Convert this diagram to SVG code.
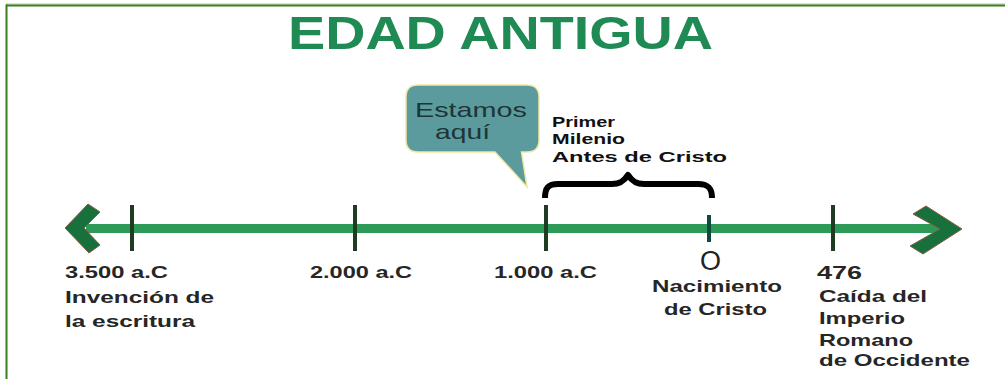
<svg xmlns="http://www.w3.org/2000/svg" width="1005" height="379" viewBox="0 0 1005 379">
<style>
.lbl{font-family:"Liberation Sans",Arial,sans-serif;font-weight:bold;font-size:17px;fill:#262626}
.brace-t{font-family:"Liberation Sans",Arial,sans-serif;font-weight:bold;font-size:15.5px;fill:#111}
.tick{stroke:#1f3b22;stroke-width:4;stroke-linecap:butt}
.head{fill:#18703d;stroke:#8a5a40;stroke-width:1}
</style>
<rect width="1005" height="379" fill="#ffffff"/>
<g id="frame">
<line x1="6" y1="4" x2="1005" y2="4" stroke="#a9cf9a" stroke-width="1"/>
<line x1="6" y1="5.5" x2="1005" y2="5.5" stroke="#3a7f20" stroke-width="2"/>
<line x1="6.5" y1="4.5" x2="6.5" y2="379" stroke="#3a7f20" stroke-width="2"/>
</g>
<g id="title">
<text x="288" y="49" font-family="'Liberation Sans',Arial,sans-serif" font-weight="bold" font-size="45.5" fill="#1f8a53" textLength="425" lengthAdjust="spacingAndGlyphs">EDAD ANTIGUA</text>
</g>
<g id="connectors">
<line x1="86" y1="228.5" x2="940" y2="228.5" stroke="#2e9a57" stroke-width="9"/>
<polygon class="head" points="65,228 88,204 100,212 84,228 100,245 89,253"/>
<polygon class="head" points="926,206 962,229 923,254 910,246 940,229 913,214"/>
<path d="M545,198 C545,188 548,184 558,184 L612,184 C620,184 624,181 628,175 C632,181 636,184 644,184 L698,184 C708,184 712,188 712,198" fill="none" stroke="#000" stroke-width="6" stroke-linejoin="round"/>
</g>
<g id="node-3500">
<line class="tick" x1="132" y1="205" x2="132" y2="251"/>
<text class="lbl" x="65" y="278" textLength="103" lengthAdjust="spacingAndGlyphs">3.500 a.C</text>
<text class="lbl" x="65" y="303" textLength="149" lengthAdjust="spacingAndGlyphs">Invención de</text>
<text class="lbl" x="65" y="327" textLength="130" lengthAdjust="spacingAndGlyphs">la escritura</text>
</g>
<g id="node-2000">
<line class="tick" x1="355" y1="205" x2="355" y2="251"/>
<text class="lbl" x="310" y="278" textLength="102" lengthAdjust="spacingAndGlyphs">2.000 a.C</text>
</g>
<g id="node-1000">
<line class="tick" x1="546" y1="205" x2="546" y2="251"/>
<text class="lbl" x="494" y="278" textLength="103" lengthAdjust="spacingAndGlyphs">1.000 a.C</text>
</g>
<g id="node-0">
<line x1="709" y1="215" x2="709" y2="242" stroke="#0f4a40" stroke-width="4"/>
<text x="710.5" y="270" text-anchor="middle" font-family="'Liberation Sans',Arial,sans-serif" font-size="27" fill="#222">O</text>
<text class="lbl" x="652" y="292" textLength="130" lengthAdjust="spacingAndGlyphs">Nacimiento</text>
<text class="lbl" x="664" y="315" textLength="103" lengthAdjust="spacingAndGlyphs">de Cristo</text>
</g>
<g id="node-476">
<line class="tick" x1="833" y1="205" x2="833" y2="251"/>
<text class="lbl" x="817" y="279" textLength="45" lengthAdjust="spacingAndGlyphs" style="font-size:19px">476</text>
<text class="lbl" x="819" y="302" textLength="108" lengthAdjust="spacingAndGlyphs">Caída del</text>
<text class="lbl" x="819" y="324" textLength="86" lengthAdjust="spacingAndGlyphs">Imperio</text>
<text class="lbl" x="819" y="346" textLength="94" lengthAdjust="spacingAndGlyphs">Romano</text>
<text class="lbl" x="819" y="366" textLength="151" lengthAdjust="spacingAndGlyphs">de Occidente</text>
</g>
<g id="bubble">
<path d="M418,85 H527 Q539,85 539,97 V140 Q539,152 527,152 H521.5 L527,187 L495,152 H418 Q406,152 406,140 V97 Q406,85 418,85 Z" fill="#5b9b9e" stroke="#f1e6a4" stroke-width="1.5"/>
<text x="415" y="117" font-family="'Liberation Sans',Arial,sans-serif" font-size="21" fill="#1d3535" textLength="112" lengthAdjust="spacingAndGlyphs">Estamos</text>
<text x="435" y="139" font-family="'Liberation Sans',Arial,sans-serif" font-size="21" fill="#1d3535" textLength="55" lengthAdjust="spacingAndGlyphs">aquí</text>
</g>
<g id="brace-label">
<text class="brace-t" x="552" y="127" textLength="63" lengthAdjust="spacingAndGlyphs">Primer</text>
<text class="brace-t" x="552" y="144" textLength="73" lengthAdjust="spacingAndGlyphs">Milenio</text>
<text class="brace-t" x="552" y="162" textLength="175" lengthAdjust="spacingAndGlyphs">Antes de Cristo</text>
</g>
</svg>
